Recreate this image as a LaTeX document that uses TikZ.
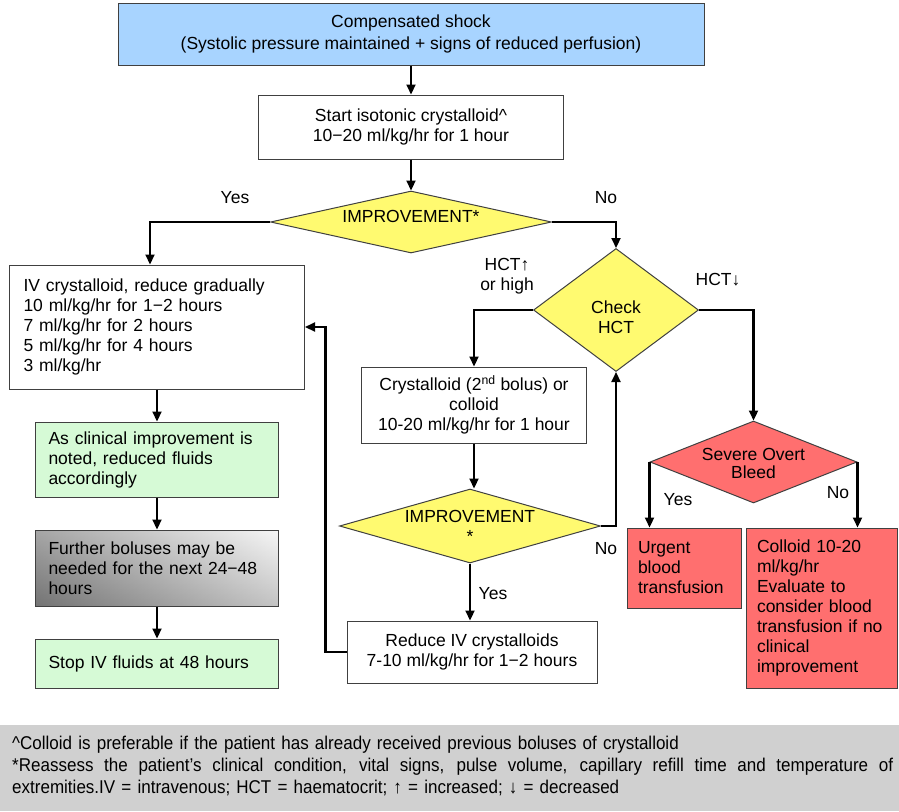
\documentclass[tikz,border=0pt]{standalone}
\usepackage{fontspec}
\setmainfont{Liberation Sans}
\newfontfamily\narrowfont[FakeStretch=0.92]{Liberation Sans}
\usetikzlibrary{positioning}
\usetikzlibrary{arrows.meta}
\usetikzlibrary{shapes.geometric}
\definecolor{shockblue}{HTML}{A8D4FF}
\definecolor{askyellow}{HTML}{FFFA70}
\definecolor{okgreen}{HTML}{D6FAD6}
\definecolor{bleedred}{HTML}{FF6F6F}
\definecolor{notegray}{HTML}{D0D0D0}
\newcommand{\twolines}[2]{\begin{tabular}{@{}c@{}}#1\\#2\end{tabular}}
\tikzset{>={Triangle[length=10pt,width=9pt]}}
\tikzset{flowbox/.style={draw=black!75,line width=1pt,rectangle,inner sep=0pt,align=center}}
\tikzset{leftbox/.style={flowbox,align=left}}
\tikzset{ask/.style={draw=black!75,line width=1pt,diamond,fill=askyellow,inner sep=0pt,align=center}}
\tikzset{greybox/.style={top color=black!6,bottom color=black!42,
  path picture={\shade[left color=black!70,right color=white,opacity=0.45]
    (path picture bounding box.south west) rectangle (path picture bounding box.north east);}}}
\tikzset{link/.style={->,line width=2.2pt}}
\tikzset{ed/.style={inner sep=0pt}}

\begin{document}
\begin{tikzpicture}[x=1pt,y=-1pt,font=\fontsize{17.5}{20}\selectfont]
\useasboundingbox (0,0) rectangle (899,811);

% main column
\node[flowbox,fill=shockblue,minimum width=586,minimum height=62] (shock) at (411,34)
  {Compensated shock\\[2pt](Systolic pressure maintained + signs of reduced perfusion)};
\node[flowbox,minimum width=305,minimum height=64] (start) at (411,127)
  {Start isotonic crystalloid\^{}\\10−20 ml/kg/hr for 1 hour};
\node[ask,minimum width=281,minimum height=62,aspect=4.5] (imp) at (411,222)
  {\raisebox{0pt}[0pt][0pt]{IMPROVEMENT*}};

% improvement: left column
\node[leftbox,minimum width=295,minimum height=124,text width=267] (ivcryst) at (157,327)
  {IV crystalloid, reduce gradually\\10 ml/kg/hr for 1−2 hours\\7 ml/kg/hr for 2 hours\\5 ml/kg/hr for 4 hours\\3 ml/kg/hr};
\node[leftbox,fill=okgreen,minimum width=243,minimum height=75,text width=217] (noted) at (157,459.5)
  {As clinical improvement is\\noted, reduced fluids\\accordingly};
\node[leftbox,greybox,minimum width=243,minimum height=76,text width=217] (boluses) at (157,568)
  {Further boluses may be\\needed for the next 24−48\\hours};
\node[leftbox,fill=okgreen,minimum width=243,minimum height=49,text width=217] (stop) at (157,663.5)
  {Stop IV fluids at 48 hours};

% no improvement: HCT branch
\node[ask,minimum width=165,minimum height=123,aspect=1.34] (hct) at (616,310)
  {\raisebox{-14pt}[0pt][0pt]{\twolines{Check}{HCT}}};
\node[flowbox,minimum width=225,minimum height=76] (bolus2) at (474,405)
  {Crystalloid (2\textsuperscript{nd} bolus) or\\colloid\\10-20 ml/kg/hr for 1 hour};
\node[ask,minimum width=261,minimum height=74,aspect=3.5] (imp2) at (470,526) {IMPROVEMENT\\*};
\node[flowbox,minimum width=250,minimum height=62] (reduce) at (472,652)
  {Reduce IV crystalloids\\7-10 ml/kg/hr for 1−2 hours};

\node[ask,fill=bleedred,minimum width=207,minimum height=82,aspect=2.5] (bleed) at (753.5,462)
  {\raisebox{-8pt}[0pt][0pt]{\renewcommand{\arraystretch}{0.9}\twolines{Severe Overt}{Bleed}}};
\node[leftbox,fill=bleedred,minimum width=114,minimum height=80,text width=92] (urgent) at (684,568)
  {Urgent\\blood\\transfusion};
\node[leftbox,fill=bleedred,minimum width=151,minimum height=160,text width=129] (colloid) at (821.5,608)
  {Colloid 10-20\\ml/kg/hr\\Evaluate to\\consider blood\\transfusion if no\\clinical\\improvement};

% labels
\node[ed] (yes1) at (235,198) {Yes};
\node[ed] (no1) at (606,198) {No};
\node[ed,align=center] (hctup) at (507,276) {HCT↑\\or high};
\node[ed] (hctdown) at (718,280) {HCT↓};
\node[ed] (no2) at (606,549) {No};
\node[ed] (yes2) at (493,594) {Yes};
\node[ed] (yes3) at (678,500) {Yes};
\node[ed] (no3) at (838,493) {No};

% arrows
\draw[link] (shock) -- (start);
\draw[link] (start) -- (imp);
\draw[link] (imp.west) -| ([xshift=-7]ivcryst.north);
\draw[link] (imp.east) -| (hct.north);
\draw[link] (ivcryst) -- (noted);
\draw[link] (noted) -- (boluses);
\draw[link] (boluses) -- (stop);
\draw[link] (hct.west) -| (bolus2.north);
\draw[link] (bolus2) -- (bolus2.south |- imp2.north);
\draw[link] (imp2.east) -| (hct.south);
\draw[link] (imp2) -- (imp2.south |- reduce.north);
\draw[link] (reduce.west) -- ++(-21,0) |- (ivcryst.east);
\draw[link] (hct.east) -| (bleed.north);
\draw[link] (bleed.west) -- (bleed.west |- urgent.north);
\draw[link] (bleed.east) -- (bleed.east |- colloid.north);

% footnote
\fill[notegray] (0,725) rectangle (899,811);
\node[anchor=north west,inner sep=0pt,text width=881,align=left,
  font=\narrowfont\fontsize{18.5}{22}\selectfont] (notes) at (12,736)
  {\^{}Colloid is preferable if the patient has already received previous boluses of crystalloid\\
   \makebox[881pt][s]{\spaceskip=0pt\xspaceskip=0pt *Reassess the patient’s clinical condition, vital signs, pulse volume, capillary refill time and temperature of}\\
   extremities.IV = intravenous; HCT = haematocrit; ↑ = increased; ↓ = decreased};
\end{tikzpicture}
\end{document}
